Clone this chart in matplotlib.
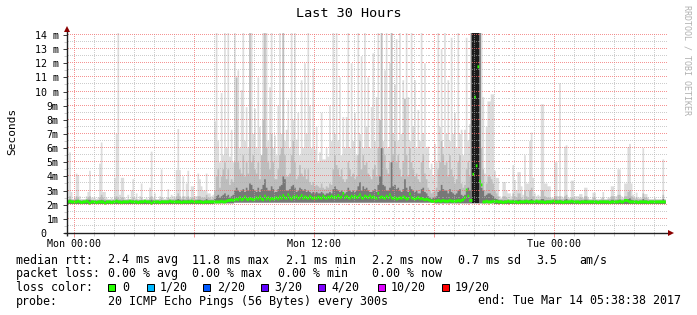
import numpy as np
import matplotlib
matplotlib.use('Agg')
import matplotlib.pyplot as plt
from matplotlib.patches import Rectangle

plt.rcParams['font.family'] = 'DejaVu Sans Mono'

# time axis: hours counted from Mon 00:00, one value per 5 minute step
view_start = -(21 + 22 / 60) / 60          # Sun 23:38:38
view_end = 29 + 38 / 60 + 38 / 3600        # Tue 05:38:38
first_step = -20 / 60                      # Sun 23:40
step_h = 5 / 60

# upper edge of the lightest smoke (max of the 20 pings), ms
top_ms = [
    2.4, 5.7, 2.9, 2.4,                                                   # Sun 23
    2.5, 4.2, 4.1, 2.6, 2.4, 2.4, 2.4, 2.6, 2.9, 4.4, 2.5, 2.5,           # Mon 00
    2.5, 2.4, 2.5, 4.9, 6.4, 2.9, 2.9, 2.5, 2.4, 2.4, 2.5, 2.4,           # Mon 01
    3.9, 7.0, 14.2, 2.7, 3.9, 3.9, 2.5, 2.4, 2.7, 2.4, 3.0, 3.8,          # Mon 02
    2.5, 2.8, 2.4, 2.6, 3.5, 2.4, 2.4, 2.5, 2.4, 3.2, 5.75, 2.5,          # Mon 03
    2.8, 2.4, 2.4, 2.6, 4.5, 2.5, 2.4, 2.5, 3.1, 2.5, 2.7, 2.6,           # Mon 04
    2.5, 4.45, 7.35, 4.45, 2.5, 4.0, 2.6, 3.5, 4.4, 2.5, 3.3, 3.3,        # Mon 05
    2.6, 2.6, 4.2, 3.8, 3.3, 3.0, 3.0, 4.2, 2.8, 2.8, 2.6, 2.7,           # Mon 06
    7.9, 14.2, 6.5, 5.0, 9.9, 5.5, 14.2, 6.0, 14.2, 5.4, 7.3, 5.0,        # Mon 07
    14.2, 8.0, 11.5, 6.0, 10.1, 14.2, 6.5, 8.9, 6.0, 12.0, 14.2, 7.0,     # Mon 08
    8.8, 6.0, 11.0, 7.5, 5.5, 14.2, 7.0, 14.2, 6.5, 10.3, 14.2, 6.0,      # Mon 09
    6.9, 5.5, 9.0, 14.2, 7.0, 14.2, 6.5, 7.3, 9.4, 6.0, 14.2, 8.0,        # Mon 10
    14.2, 6.6, 8.5, 5.5, 10.8, 6.0, 12.0, 7.0, 14.2, 9.0, 6.0, 11.6,      # Mon 11
    5.9, 7.5, 5.0, 5.7, 8.5, 5.2, 5.2, 6.0, 5.4, 9.0, 6.5, 14.2,          # Mon 12
    7.0, 14.2, 6.5, 11.0, 5.5, 8.2, 6.0, 8.2, 14.2, 6.0, 12.0, 6.5,       # Mon 13
    8.5, 5.5, 14.2, 7.0, 12.5, 6.0, 14.2, 7.5, 11.0, 6.0, 8.9, 12.7,      # Mon 14
    6.5, 9.6, 14.2, 7.0, 14.2, 6.5, 11.5, 14.2, 6.0, 12.0, 14.2, 7.0,     # Mon 15
    10.5, 13.7, 6.5, 14.2, 7.0, 10.8, 6.0, 14.2, 9.6, 6.5, 14.2, 7.5,     # Mon 16
    10.8, 6.0, 8.7, 6.5, 14.2, 7.0, 12.0, 6.0, 6.1, 4.5, 4.9, 4.0,        # Mon 17
    6.3, 5.0, 14.2, 7.5, 13.0, 6.0, 14.2, 7.0, 10.8, 6.5, 13.8, 7.0,      # Mon 18
    8.5, 6.0, 14.2, 7.0, 7.3, 5.5, 7.3, 13.8, 6.5, 7.7, 14.2, 14.2,       # Mon 19
    14.2, 14.2, 14.2, 14.2, 14.2, 9.6, 4.2, 7.5, 9.3, 9.3, 9.8, 9.8,      # Mon 20
    4.4, 3.9, 3.9, 2.6, 2.5, 3.6, 3.6, 3.0, 2.8, 2.8, 2.6, 4.8,           # Mon 21
    3.75, 3.0, 4.3, 4.3, 3.3, 2.7, 5.5, 3.5, 3.5, 6.5, 7.1, 3.9,          # Mon 22
    2.8, 2.6, 2.7, 2.6, 9.1, 9.1, 3.5, 3.5, 3.3, 3.3, 2.5, 2.5,           # Mon 23
    5.0, 5.0, 2.6, 10.6, 2.6, 2.5, 6.1, 6.2, 2.5, 2.5, 3.7, 3.7,          # Tue 00
    2.6, 2.6, 2.6, 2.75, 2.75, 2.5, 3.2, 3.2, 2.5, 2.4, 2.4, 2.85,        # Tue 01
    2.85, 2.4, 2.4, 2.4, 2.5, 2.9, 2.4, 2.4, 2.5, 2.5, 3.3, 3.3,          # Tue 02
    2.6, 2.6, 4.5, 4.5, 2.6, 2.5, 3.5, 3.5, 6.05, 6.3, 3.5, 2.7,          # Tue 03
    2.5, 2.85, 2.5, 2.5, 2.5, 6.0, 2.75, 2.75, 2.5, 2.4, 2.4, 2.4,        # Tue 04
    2.5, 2.4, 2.4, 2.4, 2.4, 5.2, 2.4,                                    # Tue 05
]

# upper edge of the middle grey smoke, ms
mid_ms = [
    2.35, 2.6, 2.4, 2.35,
    2.4, 2.6, 2.5, 2.35, 2.35, 2.35, 2.35, 2.4, 2.5, 2.6, 2.35, 2.35,
    2.35, 2.35, 2.35, 2.5, 2.7, 2.5, 2.4, 2.35, 2.35, 2.35, 2.35, 2.35,
    2.5, 2.6, 2.5, 2.4, 2.5, 2.5, 2.35, 2.35, 2.4, 2.35, 2.4, 2.5,
    2.35, 2.4, 2.35, 2.35, 2.5, 2.35, 2.35, 2.35, 2.35, 2.5, 2.6, 2.35,
    2.4, 2.35, 2.35, 2.4, 2.5, 2.35, 2.35, 2.35, 2.5, 2.4, 2.4, 2.4,
    2.4, 2.6, 2.8, 2.6, 2.4, 2.6, 2.4, 2.5, 2.6, 2.4, 2.5, 2.5,
    2.4, 2.4, 2.6, 2.6, 2.5, 2.5, 2.5, 2.7, 2.5, 2.5, 2.4, 2.5,
    3.0, 4.0, 4.5, 3.2, 4.0, 4.5, 5.0, 3.8, 4.5, 3.4, 3.8, 3.6,
    5.0, 11.0, 5.0, 4.5, 4.2, 5.5, 4.0, 5.0, 4.2, 14.2, 5.0, 5.5,
    4.5, 4.2, 5.0, 3.8, 5.5, 8.0, 14.2, 6.0, 5.0, 4.5, 7.0, 5.0,
    3.8, 3.8, 4.5, 5.5, 6.0, 14.2, 5.5, 4.0, 4.0, 4.2, 5.5, 6.5,
    5.0, 3.8, 4.0, 4.8, 4.2, 4.0, 4.5, 3.8, 4.5, 3.6, 3.4, 3.6,
    3.3, 3.4, 3.3, 3.2, 3.5, 3.2, 3.1, 3.3, 3.2, 3.5, 3.4, 4.5,
    5.5, 4.8, 4.5, 4.0, 4.5, 3.8, 3.6, 3.8, 5.0, 4.5, 4.0, 4.2,
    3.8, 4.0, 5.5, 6.5, 4.5, 5.5, 4.8, 5.0, 4.2, 4.0, 3.8, 4.5,
    4.8, 4.0, 6.0, 8.0, 14.2, 6.0, 5.5, 4.5, 4.2, 5.0, 14.2, 5.5,
    6.5, 5.0, 5.5, 4.5, 4.0, 5.0, 9.5, 5.5, 4.0, 6.0, 5.0, 4.5,
    4.0, 4.2, 3.8, 3.6, 5.0, 5.5, 4.2, 3.8, 3.2, 3.0, 2.8, 2.9,
    3.0, 3.2, 4.5, 5.0, 6.5, 5.5, 4.8, 5.0, 4.0, 5.5, 4.5, 4.0,
    3.5, 3.8, 5.0, 5.5, 3.5, 3.2, 3.4, 4.5, 5.0, 4.0, 14.2, 14.2,
    14.2, 14.2, 14.2, 14.2, 6.0, 4.5, 3.0, 3.5, 4.0, 4.0, 3.8, 3.5,
    3.0, 2.8, 2.6, 2.4, 2.4, 2.6, 2.6, 2.5, 2.4, 2.4, 2.4, 2.8,
    2.6, 2.5, 2.8, 2.8, 2.5, 2.4, 3.0, 2.6, 2.5, 3.0, 3.2, 2.6,
    2.4, 2.4, 2.4, 2.4, 3.0, 3.0, 2.6, 2.5, 2.5, 2.5, 2.4, 2.4,
    2.6, 2.6, 2.4, 2.6, 2.4, 2.4, 2.6, 2.7, 2.4, 2.4, 2.5, 2.5,
    2.4, 2.4, 2.4, 2.5, 2.5, 2.4, 2.6, 2.6, 2.4, 2.35, 2.35, 2.5,
    2.5, 2.35, 2.35, 2.35, 2.4, 2.5, 2.35, 2.35, 2.4, 2.4, 2.6, 2.6,
    2.4, 2.4, 2.7, 2.7, 2.4, 2.4, 2.6, 2.6, 2.9, 3.0, 2.6, 2.5,
    2.4, 2.5, 2.4, 2.4, 2.4, 2.8, 2.5, 2.5, 2.4, 2.35, 2.35, 2.35,
    2.4, 2.35, 2.35, 2.35, 2.35, 2.7, 2.35,
]

# upper edge of the dark smoke close to the median, ms
dark_ms = [
    2.28, 2.35, 2.3, 2.28,
    2.3, 2.35, 2.3, 2.28, 2.28, 2.28, 2.28, 2.3, 2.35, 2.35, 2.28, 2.28,
    2.28, 2.28, 2.28, 2.3, 2.35, 2.3, 2.28, 2.28, 2.28, 2.28, 2.28, 2.28,
    2.3, 2.35, 2.3, 2.28, 2.3, 2.3, 2.28, 2.28, 2.28, 2.28, 2.28, 2.3,
    2.28, 2.28, 2.28, 2.28, 2.3, 2.28, 2.28, 2.28, 2.28, 2.3, 2.35, 2.28,
    2.28, 2.28, 2.28, 2.28, 2.3, 2.28, 2.28, 2.28, 2.3, 2.28, 2.28, 2.28,
    2.3, 2.35, 2.4, 2.35, 2.3, 2.35, 2.3, 2.3, 2.35, 2.3, 2.3, 2.3,
    2.3, 2.3, 2.35, 2.35, 2.3, 2.3, 2.3, 2.4, 2.3, 2.3, 2.3, 2.3,
    2.4, 2.6, 2.7, 2.5, 2.6, 2.7, 2.8, 2.6, 2.7, 2.5, 2.6, 2.7,
    3.0, 3.2, 3.0, 2.9, 3.0, 3.1, 2.9, 3.2, 3.0, 3.5, 3.4, 3.1,
    3.0, 2.9, 3.2, 2.9, 3.1, 3.4, 3.8, 3.2, 3.0, 3.0, 3.3, 3.1,
    2.9, 2.9, 3.1, 3.3, 3.4, 4.0, 3.8, 3.0, 3.0, 3.1, 3.3, 3.4,
    3.2, 2.9, 3.0, 3.2, 3.1, 3.0, 3.1, 2.9, 3.0, 2.9, 2.8, 2.9,
    2.8, 2.9, 2.8, 2.8, 2.9, 2.8, 2.7, 2.8, 2.8, 2.9, 2.8, 3.1,
    3.3, 3.1, 3.0, 2.9, 3.0, 2.9, 2.8, 2.9, 3.2, 3.0, 2.9, 3.0,
    2.9, 3.0, 3.3, 3.6, 3.0, 3.3, 3.1, 3.2, 3.0, 2.9, 2.9, 3.0,
    3.1, 2.9, 3.4, 4.0, 6.0, 3.4, 3.3, 3.0, 3.0, 3.2, 5.0, 3.3,
    3.4, 3.1, 3.2, 3.0, 2.9, 3.1, 3.8, 3.2, 2.9, 3.3, 3.1, 3.0,
    2.9, 3.0, 2.8, 2.8, 3.1, 3.2, 2.9, 2.8, 2.6, 2.5, 2.4, 2.5,
    2.5, 2.6, 2.9, 3.0, 3.4, 3.1, 3.0, 3.0, 2.8, 3.1, 2.9, 2.8,
    2.7, 2.8, 3.0, 3.1, 2.7, 2.6, 2.7, 3.0, 3.2, 3.0, 14.2, 14.2,
    14.2, 14.2, 14.2, 14.2, 3.2, 3.0, 2.6, 2.7, 2.8, 2.8, 2.7, 2.6,
    2.45, 2.4, 2.35, 2.3, 2.3, 2.3, 2.3, 2.3, 2.28, 2.28, 2.28, 2.35,
    2.3, 2.3, 2.35, 2.35, 2.3, 2.28, 2.35, 2.3, 2.3, 2.35, 2.4, 2.3,
    2.28, 2.28, 2.28, 2.28, 2.4, 2.4, 2.3, 2.3, 2.3, 2.3, 2.28, 2.28,
    2.35, 2.35, 2.28, 2.35, 2.28, 2.28, 2.35, 2.4, 2.28, 2.28, 2.3, 2.3,
    2.28, 2.28, 2.28, 2.3, 2.3, 2.28, 2.35, 2.35, 2.28, 2.28, 2.28, 2.3,
    2.3, 2.28, 2.28, 2.28, 2.28, 2.3, 2.28, 2.28, 2.28, 2.28, 2.35, 2.35,
    2.28, 2.28, 2.35, 2.35, 2.28, 2.28, 2.35, 2.35, 2.4, 2.45, 2.35, 2.3,
    2.28, 2.3, 2.28, 2.28, 2.28, 2.4, 2.3, 2.3, 2.28, 2.28, 2.28, 2.28,
    2.28, 2.28, 2.28, 2.28, 2.28, 2.4, 2.28,
]

# median rtt, ms
median_ms = [
    2.2, 2.25, 2.2, 2.2,
    2.2, 2.2, 2.25, 2.2, 2.15, 2.2, 2.2, 2.25, 2.2, 2.1, 2.2, 2.2,
    2.2, 2.15, 2.2, 2.2, 2.2, 2.2, 2.1, 2.2, 2.2, 2.2, 2.15, 2.2,
    2.2, 2.25, 2.2, 2.2, 2.15, 2.2, 2.2, 2.2, 2.2, 2.25, 2.2, 2.2,
    2.2, 2.2, 2.15, 2.2, 2.2, 2.2, 2.25, 2.2, 2.2, 2.2, 2.1, 2.2,
    2.2, 2.2, 2.2, 2.15, 2.2, 2.2, 2.2, 2.2, 2.2, 2.25, 2.2, 2.2,
    2.2, 2.2, 2.2, 2.2, 2.15, 2.2, 2.2, 2.2, 2.2, 2.2, 2.25, 2.2,
    2.2, 2.2, 2.2, 2.2, 2.2, 2.15, 2.2, 2.2, 2.2, 2.2, 2.2, 2.2,
    2.2, 2.2, 2.2, 2.2, 2.25, 2.2, 2.2, 2.25, 2.3, 2.3, 2.35, 2.3,
    2.35, 2.4, 2.35, 2.5, 2.35, 2.4, 2.55, 2.4, 2.35, 2.45, 2.4, 2.35,
    2.4, 2.5, 2.4, 2.55, 2.4, 2.35, 2.6, 2.4, 2.5, 2.35, 2.45, 2.4,
    2.45, 2.5, 2.4, 2.55, 2.45, 2.65, 2.5, 2.45, 2.7, 2.5, 2.4, 2.55,
    2.5, 2.6, 2.45, 2.5, 2.65, 2.45, 2.55, 2.5, 2.45, 2.6, 2.5, 2.45,
    2.5, 2.45, 2.55, 2.5, 2.45, 2.6, 2.5, 2.45, 2.55, 2.5, 2.6, 2.5,
    2.55, 2.5, 2.65, 2.5, 2.55, 2.8, 2.5, 2.6, 2.5, 2.45, 2.6, 2.5,
    2.6, 2.5, 2.55, 2.7, 2.5, 2.45, 2.6, 2.55, 2.5, 2.65, 2.5, 2.55,
    2.5, 2.45, 2.8, 2.5, 2.55, 2.5, 2.45, 2.6, 2.5, 2.7, 2.5, 2.45,
    2.5, 2.4, 2.45, 2.5, 2.45, 2.55, 2.5, 2.4, 2.45, 2.75, 2.5, 2.45,
    2.4, 2.45, 2.5, 2.4, 2.45, 2.4, 2.35, 2.4, 2.35, 2.3, 2.25, 2.25,
    2.25, 2.25, 2.3, 2.25, 2.25, 2.3, 2.25, 2.25, 2.25, 2.3, 2.25, 2.25,
    2.25, 2.25, 2.3, 2.25, 2.3, 2.35, 2.5, 3.04, 2.6, 2.3, 2.3, 4.15,
    9.6, 4.75, 11.75, 3.65, 3.4, 2.2, 2.2, 2.25, 2.2, 2.2, 2.2, 2.25,
    2.2, 2.25, 2.2, 2.2, 2.2, 2.15, 2.2, 2.2, 2.25, 2.2, 2.2, 2.2,
    2.2, 2.2, 2.15, 2.2, 2.2, 2.2, 2.2, 2.25, 2.2, 2.2, 2.2, 2.2,
    2.2, 2.25, 2.2, 2.2, 2.2, 2.2, 2.15, 2.2, 2.2, 2.2, 2.2, 2.25,
    2.2, 2.2, 2.2, 2.2, 2.2, 2.15, 2.2, 2.2, 2.2, 2.2, 2.25, 2.2,
    2.2, 2.2, 2.2, 2.15, 2.2, 2.2, 2.2, 2.2, 2.2, 2.2, 2.2, 2.2,
    2.2, 2.2, 2.15, 2.2, 2.2, 2.2, 2.2, 2.2, 2.2, 2.15, 2.2, 2.2,
    2.2, 2.2, 2.2, 2.25, 2.2, 2.2, 2.3, 2.3, 2.25, 2.2, 2.2, 2.2,
    2.2, 2.2, 2.15, 2.2, 2.2, 2.2, 2.2, 2.2, 2.15, 2.2, 2.2, 2.2,
    2.2, 2.2, 2.2, 2.2, 2.2, 2.2, 2.2,
]

# lowest ping, one value per clock hour (Sun 23 ... Tue 05)
floor_by_hour = [2.05,
                 2.05, 2.05, 2.05, 2.05, 2.05, 2.05, 2.05, 2.1,
                 2.15, 2.15, 2.15, 2.15, 2.15, 2.15, 2.15, 2.15,
                 2.15, 2.15, 2.1, 2.1, 2.1, 2.05, 2.05, 2.05,
                 2.05, 2.05, 2.05, 2.05, 2.05, 2.05]
steps_in_hour = [4] + [12] * 29 + [7]

# black core of the outage around 20:00
core_start = 19 + 55 / 60
core_ms = [14.2, 14.2, 14.2, 14.2]

y_ticks = list(range(15))
y_tick_labels = ['0  '] + [f'{v}m' for v in range(1, 10)] + [f'{v} m' for v in range(10, 15)]
x_ticks = [0, 6, 12, 18, 24]
x_tick_labels = ['Mon 00:00', '', 'Mon 12:00', '', 'Tue 00:00']
x_minor = list(range(1, 30))
y_minor = [v + 0.5 for v in range(14)]

loss_labels = ['0', '1/20', '2/20', '3/20', '4/20', '10/20', '19/20']
loss_colors = ['#26ff00', '#00b8ff', '#0059ff', '#5e00ff', '#7e00ff', '#dd00ff', '#ff0000']

W, H = 697, 315
PLOT_W, PLOT_H = 600, 200
YMAX = 14.14
fig = plt.figure(figsize=(W / 100, H / 100), dpi=100, facecolor='white')
ax = fig.add_axes([67 / W, (H - 233) / H, PLOT_W / W, PLOT_H / H])


def fx(px):
    return px / W


def fy(py):
    return 1 - py / H


edges = first_step + step_h * np.arange(len(median_ms) + 1)
floor = np.repeat(floor_by_hour, steps_in_hour)
med = np.array(median_ms)

ax.stairs(top_ms, edges, baseline=floor, fill=True, color='#dcdcdc', lw=0)
ax.stairs(mid_ms, edges, baseline=floor, fill=True, color='#bdbdbd', lw=0)
ax.stairs(dark_ms, edges, baseline=floor, fill=True, color='#777777', lw=0)
core_edges = core_start + step_h * np.arange(len(core_ms) + 1)
ax.stairs(core_ms, core_edges, baseline=2.1, fill=True, color='#1c1c1c', lw=0)
thick = 0.21
ax.stairs(med + thick / 2, edges, baseline=med - thick / 2, fill=True,
          color='#26ff00', lw=0)

# dotted grid, one pixel on / one pixel off like rrdtool
major_c = (0.95, 0.42, 0.42, 0.72)
minor_c = (0.68, 0.68, 0.68, 0.6)
px_x = (view_end - view_start) / PLOT_W
px_y = YMAX / PLOT_H
dots_x = view_start + px_x * (0.5 + 2 * np.arange(PLOT_W // 2))
dots_y = px_y * (0.5 + 2 * np.arange(PLOT_H // 2))


def hgrid(levels, color):
    for v in levels:
        ax.plot(dots_x, np.full_like(dots_x, v), ls='none', marker=',', color=color)


def vgrid(times, color):
    for t in times:
        ax.plot(np.full_like(dots_y, t), dots_y, ls='none', marker=',', color=color)


vgrid([t for t in x_minor if t not in x_ticks], minor_c)
hgrid(y_minor, minor_c)
vgrid(x_ticks, major_c)
hgrid(y_ticks[1:], major_c)

ax.set_xlim(view_start, view_end)
ax.set_ylim(0, YMAX)
ax.set_xticks(x_ticks)
ax.set_xticklabels(x_tick_labels)
ax.set_xticks(x_minor, minor=True)
ax.set_yticks(y_ticks)
ax.set_yticklabels(y_tick_labels)
ax.set_yticks(y_minor, minor=True)

for s in ax.spines.values():
    s.set_visible(False)
ax.tick_params(axis='both', which='both', labelsize=7.2, direction='out')
ax.tick_params(axis='x', which='major', length=3, width=0.72, color=major_c, pad=1)
ax.tick_params(axis='x', which='minor', length=2, width=0.72, color=minor_c)
ax.tick_params(axis='y', which='major', length=3, width=0.72, color='#404040', pad=3)
ax.tick_params(axis='y', which='minor', length=2, width=0.72, color=minor_c)

axis_c = '#202020'
arrow_c = '#8b0000'
ax.plot([0, 0], [-0.015, 1.02], transform=ax.transAxes, color=axis_c,
        lw=1.0, clip_on=False, solid_capstyle='butt')
ax.plot([-0.005, 1.005], [0, 0], transform=ax.transAxes, color=axis_c,
        lw=1.0, clip_on=False, solid_capstyle='butt')
ax.plot([0], [1.0215], marker='^', ms=4.2, color=arrow_c, mew=0,
        transform=ax.transAxes, clip_on=False)
ax.plot([1.0063], [0], marker='>', ms=4.2, color=arrow_c, mew=0,
        transform=ax.transAxes, clip_on=False)

fig.text(fx(348.5), fy(13.5), 'Last 30 Hours', ha='center', va='center', fontsize=9.7)
fig.text(fx(12), fy(131), 'Seconds', rotation=90, ha='center', va='center', fontsize=8)
fig.text(fx(687), fy(60), 'RRDTOOL / TOBI OETIKER', rotation=270, ha='center',
         va='center', fontsize=6, color='#b0b0b0')

fs = 8.4
legend_rows = [
    (263.5, [(16, 'median rtt:'), (107.5, '2.4 ms avg'), (192.5, '11.8 ms max'),
             (286.5, '2.1 ms min'), (371.5, '2.2 ms now'), (457.5, '0.7 ms sd'),
             (536, '3.5'), (579, 'am/s')]),
    (277, [(16, 'packet loss:'), (107.5, '0.00 % avg'), (192.5, '0.00 % max'),
           (278.5, '0.00 % min'), (371.5, '0.00 % now')]),
    (290.7, [(16, 'loss color:')]),
    (304.5, [(16, 'probe:'), (107.5, '20 ICMP Echo Pings (56 Bytes) every 300s'),
             (477.5, 'end: Tue Mar 14 05:38:38 2017')]),
]
for base, items in legend_rows:
    for x, s in items:
        fig.text(fx(x), fy(base), s, ha='left', va='baseline', fontsize=fs)

box_x = [108, 146.7, 203.3, 260.7, 318.3, 378.3, 441.7]
label_x = [122.5, 160, 217.5, 274.5, 331, 391, 454.5]
for bx, lx, lab, col in zip(box_x, label_x, loss_labels, loss_colors):
    fig.add_artist(Rectangle((fx(bx), fy(291)), 7 / W, 7 / H, transform=fig.transFigure,
                             facecolor=col, edgecolor='black', lw=0.72))
    fig.text(fx(lx), fy(290.7), lab, ha='left', va='baseline', fontsize=fs)

fig.savefig('out.png', dpi=100, facecolor='white')
